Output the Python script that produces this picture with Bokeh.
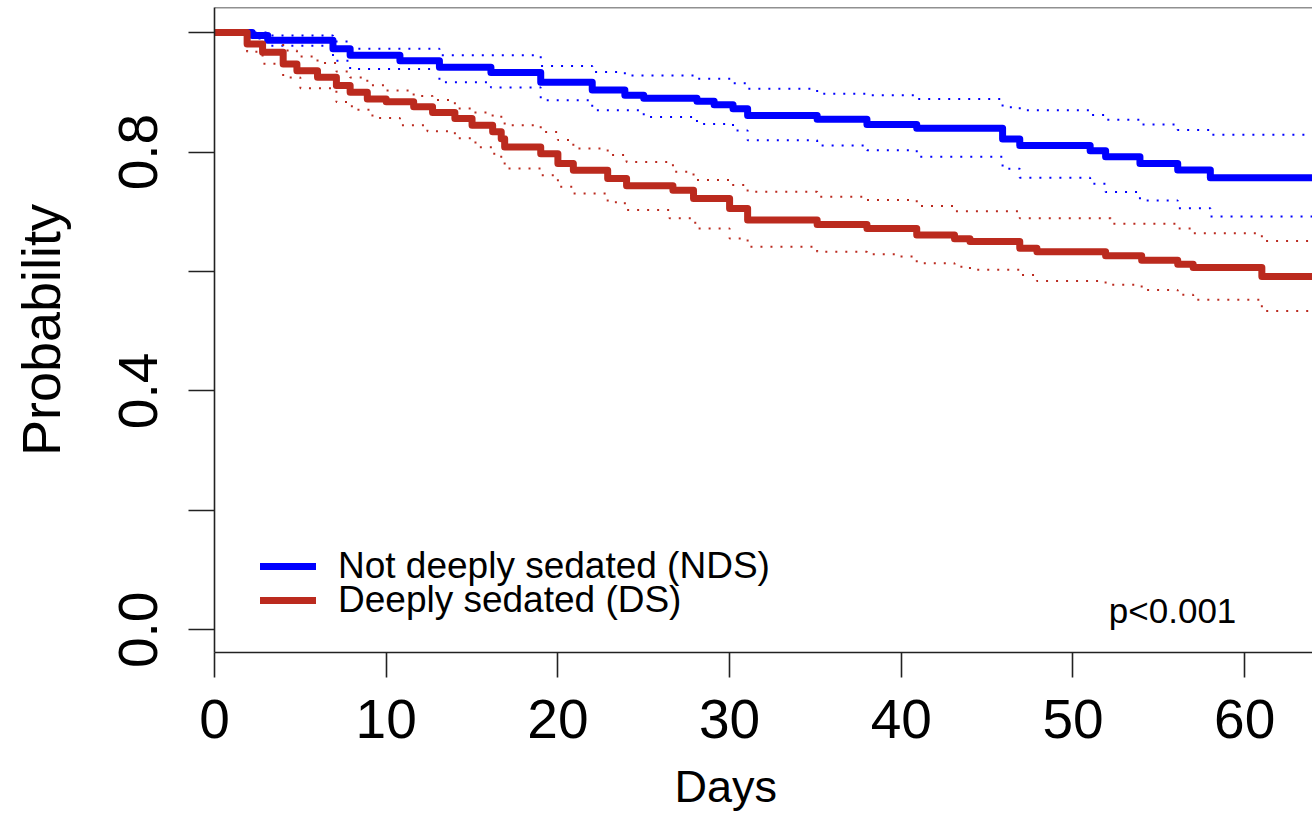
from bokeh.plotting import figure
from bokeh.models import Range1d, FixedTicker, Span, Label, Legend, LegendItem, NumeralTickFormatter, Title
from bokeh.embed import file_html
from bokeh.resources import INLINE

# ---- data ----
x_ticks = [0, 10, 20, 30, 40, 50, 60]
y_ticks_labelled = [0.0, 0.4, 0.8]
y_ticks_unlabelled = [0.2, 0.6, 1.0]

# Not deeply sedated (NDS) - Kaplan-Meier estimate and 95% CI
nds_days = [0, 2.2, 3.1, 6.9, 7.9, 10.8, 13.1, 16.1, 19.0, 22.0, 23.9, 25.0, 28.1, 29.1, 30.2,
            31.05, 35.1, 38.0, 40.9, 45.9, 46.9, 51.0, 51.9, 53.9, 56.1, 58.0, 64.0]
nds_surv = [1.0, 0.995, 0.987, 0.973, 0.962, 0.953, 0.942, 0.933, 0.917, 0.904, 0.895, 0.890, 0.885,
            0.879, 0.8725, 0.861, 0.855, 0.846, 0.840, 0.822, 0.811, 0.802, 0.792, 0.781, 0.770, 0.757, 0.757]

nds_up_days = [0, 3.1, 6.9, 7.9, 13.1, 19.0, 22.0, 23.9, 28.1, 30.2, 31.05, 35.1, 38.0, 40.9, 45.9,
               46.9, 51.0, 51.9, 53.9, 56.1, 58.0, 64.0]
nds_up = [1.0, 0.995, 0.985, 0.973, 0.962, 0.944, 0.934, 0.928, 0.9225, 0.915, 0.906, 0.8975, 0.895,
          0.889, 0.875, 0.870, 0.862, 0.854, 0.846, 0.837, 0.829, 0.829]

nds_lo_days = [0, 2.2, 3.1, 6.9, 7.9, 13.1, 16.1, 19.0, 22.0, 25.0, 28.1, 30.2, 31.05, 35.1, 38.0,
               40.9, 45.9, 46.9, 51.0, 51.9, 53.9, 56.1, 58.0, 64.0]
nds_lo = [1.0, 0.99, 0.978, 0.953, 0.939, 0.917, 0.908, 0.8865, 0.870, 0.8586, 0.847, 0.836, 0.8197,
          0.811, 0.803, 0.792, 0.772, 0.757, 0.747, 0.733, 0.719, 0.706, 0.692, 0.692]

# Deeply sedated (DS)
ds_days = [0, 1.9, 2.8, 4.0, 4.8, 6.0, 7.1, 7.9, 8.9, 10.0, 11.6, 12.7, 14.0, 15.0, 16.2, 16.7, 16.9,
           19.0, 20.0, 20.9, 22.9, 24.0, 26.7, 27.9, 30.0, 31.05, 35.1, 38.0, 40.9, 43.1, 44.0, 46.9,
           47.9, 51.9, 54.0, 56.1, 57.0, 61.0, 64.0]
ds_surv = [1.0, 0.981, 0.967, 0.9476, 0.936, 0.9254, 0.9115, 0.900, 0.889, 0.884, 0.876, 0.866, 0.856,
           0.845, 0.834, 0.8224, 0.8085, 0.797, 0.7806, 0.7696, 0.7556, 0.7434, 0.736, 0.722, 0.7055,
           0.686, 0.6788, 0.672, 0.661, 0.655, 0.650, 0.639, 0.633, 0.6265, 0.619, 0.612, 0.6065,
           0.5915, 0.5915]

ds_up_days = [0, 1.9, 2.8, 4.0, 4.8, 6.0, 7.1, 7.9, 8.9, 10.0, 11.6, 12.7, 14.0, 15.0, 16.2, 16.9,
              19.0, 20.0, 20.9, 22.9, 24.0, 26.7, 27.9, 30.0, 31.05, 35.1, 38.0, 40.9, 43.1, 46.9,
              52.2, 56.1, 57.0, 61.0, 64.0]
ds_up = [1.0, 0.996, 0.985, 0.970, 0.960, 0.949, 0.935, 0.925, 0.912, 0.903, 0.894, 0.887, 0.873,
         0.866, 0.859, 0.8447, 0.8336, 0.82, 0.8057, 0.795, 0.7835, 0.7668, 0.753, 0.745, 0.7334,
         0.725, 0.7195, 0.7095, 0.701, 0.689, 0.680, 0.672, 0.664, 0.651, 0.651]

ds_lo_days = [0, 1.9, 2.8, 4.0, 5.0, 7.1, 8.0, 9.2, 10.8, 12.4, 14.0, 15.2, 16.2, 16.7, 16.9, 19.0,
              20.0, 20.9, 22.9, 23.9, 26.5, 28.0, 30.0, 31.05, 35.1, 38.0, 39.9, 40.9, 43.1, 44.0,
              46.9, 47.9, 51.9, 54.0, 56.1, 57.0, 61.0, 64.0]
ds_lo = [1.0, 0.968, 0.948, 0.925, 0.907, 0.8836, 0.871, 0.857, 0.845, 0.835, 0.823, 0.808, 0.797,
         0.789, 0.7723, 0.761, 0.7417, 0.7306, 0.716, 0.703, 0.689, 0.672, 0.6554, 0.6416, 0.633,
         0.6287, 0.625, 0.6137, 0.608, 0.6027, 0.594, 0.584, 0.5776, 0.569, 0.561, 0.5526, 0.534, 0.534]

labels = ["Not deeply sedated (NDS)", "Deeply sedated (DS)"]
x_title = "Days"
y_title = "Probability"
p_text = "p<0.001"

BLUE = "#0000FF"
RED = "#BB2A1E"
AX = "#222222"
FONT = "Liberation Sans"
Y_LO, Y_HI = -0.038, 1.042

p = figure(width=1312, height=814, x_range=Range1d(0, 63.95), y_range=Range1d(Y_LO, Y_HI),
           output_backend="svg", toolbar_location=None,
           min_border_left=214, min_border_right=0, min_border_top=7, min_border_bottom=162)
p.outline_line_color = None
p.grid.visible = False
p.background_fill_color = "white"
p.border_fill_color = "white"

# CI (dotted)
for xs, ys, c in [(nds_up_days, nds_up, BLUE), (nds_lo_days, nds_lo, BLUE),
                  (ds_up_days, ds_up, RED), (ds_lo_days, ds_lo, RED)]:
    p.step(xs, ys, mode="after", line_color=c, line_width=2, line_dash="2 8")

r_nds = p.step(nds_days, nds_surv, mode="after", line_color=BLUE, line_width=7,
               line_cap="round", line_join="round")
r_ds = p.step(ds_days, ds_surv, mode="after", line_color=RED, line_width=7,
              line_cap="round", line_join="round")

# x axis
xa = p.xaxis[0]
xa.ticker = FixedTicker(ticks=x_ticks)
xa.major_tick_out = 25
xa.major_tick_in = 0
xa.minor_tick_out = 0
xa.minor_tick_in = 0
xa.axis_line_color = AX
xa.axis_line_width = 1.6
xa.major_tick_line_color = AX
xa.major_tick_line_width = 1.6
xa.major_label_text_font = FONT
xa.major_label_text_font_size = "55px"
xa.major_label_text_color = "black"
xa.major_label_standoff = 22

# y axis
ya = p.yaxis[0]
ya.ticker = FixedTicker(ticks=y_ticks_labelled, minor_ticks=y_ticks_unlabelled)
ya.formatter = NumeralTickFormatter(format="0.0")
ya.major_tick_out = 26
ya.major_tick_in = 0
ya.minor_tick_out = 26
ya.minor_tick_in = 0
ya.axis_line_color = AX
ya.axis_line_width = 1.6
ya.major_tick_line_color = AX
ya.major_tick_line_width = 1.6
ya.minor_tick_line_color = AX
ya.minor_tick_line_width = 1.6
ya.major_label_orientation = "vertical"
ya.major_label_text_font = FONT
ya.major_label_text_font_size = "55px"
ya.major_label_text_color = "black"
ya.major_label_standoff = 31
ya.axis_label = y_title
ya.axis_label_text_font = FONT
ya.axis_label_text_font_size = "54px"
ya.axis_label_text_font_style = "normal"
ya.axis_label_text_color = "black"
ya.axis_label_standoff = 46

# box: top border across the whole frame
p.add_layout(Span(location=Y_HI, dimension="width", line_color=AX, line_width=1.6))

# x axis title (placed as a below-panel title so it sits where the reference has it)
p.add_layout(Title(text="\u00a0", text_font_size="1px", standoff=15), "below")
p.add_layout(Title(text=x_title, align="left", offset=460, standoff=0, text_font=FONT,
                   text_font_size="45px", text_font_style="normal", text_color="black"), "below")

# p-value
p.add_layout(Label(x=55.8, y=0.032, text=p_text, text_align="center", text_baseline="alphabetic",
                   text_font=FONT, text_font_size="35px", text_color="black"))

leg_style = dict(orientation="vertical", padding=0, margin=0, spacing=0,
                 glyph_width=56, glyph_height=20, label_height=20, label_standoff=22,
                 border_line_color=None, background_fill_alpha=0,
                 label_text_font=FONT, label_text_font_size="37px", label_text_color="black")
p.add_layout(Legend(items=[LegendItem(label=labels[0], renderers=[r_nds])],
                    location=(46, 65), **leg_style))
p.add_layout(Legend(items=[LegendItem(label=labels[1], renderers=[r_ds])],
                    location=(46, 31), **leg_style))

open("out.html", "w").write(file_html(p, INLINE))
